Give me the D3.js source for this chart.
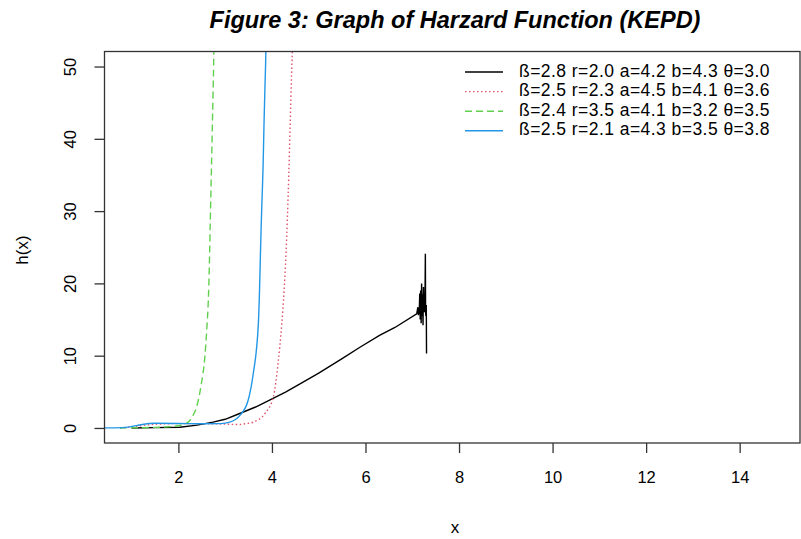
<!DOCTYPE html>
<html>
<head>
<meta charset="utf-8">
<script src="https://cdn.jsdelivr.net/npm/d3@7"></script>
<style>
  body { margin: 0; background: #fff; }
  svg text { font-family: "Liberation Sans", Arial, sans-serif; fill: #000; }
</style>
</head>
<body>
<div id="chart"></div>
<script>
// values, [x, h(x)]
const curveBlack = [
  [1.0, 0], [1.5, 0.05], [2.03, 0.1], [2.4, 0.4], [2.74, 0.8], [3.0, 1.2], [3.31, 2.0],
  [3.65, 2.9], [3.96, 3.9], [4.3, 5.0], [4.6, 6.1], [5.0, 7.6], [5.5, 9.6], [5.89, 11.2],
  [6.3, 12.8], [6.63, 13.9], [7.095, 15.8], [7.12, 16.7], [7.13, 15.6], [7.15, 16.2],
  [7.16, 18.6], [7.17, 15.0], [7.18, 19.0], [7.19, 14.5], [7.2, 20.0], [7.21, 15.5],
  [7.22, 18.5], [7.23, 14.2], [7.24, 19.5], [7.25, 16.0], [7.26, 17.2], [7.27, 16.0],
  [7.28, 24.1], [7.285, 16.0], [7.29, 15.5], [7.3, 17.0], [7.305, 10.3]
];
const curveRed = [
  [0.75, 0], [1.0, 0.15], [1.3, 0.4], [1.6, 0.55], [2.0, 0.6], [2.5, 0.6], [2.96, 0.55],
  [3.28, 0.48], [3.45, 0.6], [3.6, 0.8], [3.85, 2.0], [4.03, 4.3], [4.13, 8.9], [4.21, 14.4],
  [4.26, 19], [4.3, 24], [4.33, 29], [4.36, 35], [4.39, 42], [4.42, 49], [4.435, 52.1], [4.45, 58]
];
const curveGreen = [
  [0.75, 0], [1.0, 0.02], [1.5, 0.08], [2.0, 0.3], [2.21, 0.8], [2.3, 1.6], [2.39, 2.9],
  [2.49, 6.1], [2.565, 9.8], [2.61, 14], [2.64, 17.7], [2.66, 22], [2.68, 28], [2.7, 34],
  [2.72, 40], [2.74, 46], [2.758, 52.1], [2.77, 58]
];
const curveBlue = [
  [0.3, 0], [0.8, 0.05], [1.0, 0.2], [1.2, 0.45], [1.5, 0.65], [2.0, 0.62], [2.5, 0.58],
  [2.9, 0.6], [3.1, 0.8], [3.31, 1.7], [3.49, 3.8], [3.6, 7.5], [3.71, 14.5], [3.73, 18],
  [3.75, 23], [3.77, 28], [3.79, 32], [3.81, 36], [3.83, 42], [3.85, 47], [3.87, 52.1], [3.885, 60]
];

const legendLabels = [
  "ß=2.8 r=2.0 a=4.2 b=4.3 θ=3.0",
  "ß=2.5 r=2.3 a=4.5 b=4.1 θ=3.6",
  "ß=2.4 r=3.5 a=4.1 b=3.2 θ=3.5",
  "ß=2.5 r=2.1 a=4.3 b=3.5 θ=3.8"
];
const xTicks = [2, 4, 6, 8, 10, 12, 14];
const yTicks = [0, 10, 20, 30, 40, 50];

const series = [
  { data: curveBlack, color: "#000000", dash: null, smooth: false },
  { data: curveRed, color: "#DF536B", dash: "1.5,2.5", smooth: true },
  { data: curveGreen, color: "#61D04F", dash: "7,4", smooth: true },
  { data: curveBlue, color: "#2297E6", dash: null, smooth: true }
];

const width = 801, height = 539;
const box = { left: 104.5, right: 800, top: 51.5, bottom: 443 };

let svg = d3.select("#chart")
  .append("svg")
  .attr("width", width)
  .attr("height", height);

let x = d3.scaleLinear().domain([0.42, 15.29]).range([box.left, box.right]);
let y = d3.scaleLinear().domain([-2.08, 52.08]).range([box.bottom, box.top]);

svg.append("defs").append("clipPath")
  .attr("id", "plotclip")
  .append("rect")
  .attr("x", box.left)
  .attr("y", box.top)
  .attr("width", box.right - box.left)
  .attr("height", box.bottom - box.top);

// curves
let plot = svg.append("g").attr("clip-path", "url(#plotclip)");
series.forEach(s => {
  let line = d3.line()
    .x(d => x(d[0]))
    .y(d => y(d[1]))
    .curve(s.smooth ? d3.curveMonotoneX : d3.curveLinear);
  plot.append("path")
    .datum(s.data)
    .attr("fill", "none")
    .attr("stroke", s.color)
    .attr("stroke-width", 1.4)
    .attr("stroke-dasharray", s.dash)
    .attr("d", line);
});

// box
svg.append("rect")
  .attr("x", box.left)
  .attr("y", box.top)
  .attr("width", box.right - box.left)
  .attr("height", box.bottom - box.top)
  .attr("fill", "none")
  .attr("stroke", "#333")
  .attr("stroke-width", 1.3);

// axes
let xAxis = svg.append("g")
  .attr("transform", `translate(0,${box.bottom})`)
  .call(d3.axisBottom(x).tickValues(xTicks).tickSize(10).tickSizeOuter(0).tickPadding(18));
let yAxis = svg.append("g")
  .attr("transform", `translate(${box.left},0)`)
  .call(d3.axisLeft(y).tickValues(yTicks).tickSize(10).tickSizeOuter(0));

[xAxis, yAxis].forEach(a => {
  a.select(".domain").remove();
  a.selectAll(".tick line").attr("stroke", "#333").attr("stroke-width", 1.3);
  a.selectAll("text").attr("fill", "#000").style("font-size", "16.5px")
    .style("font-family", "'Liberation Sans', Arial, sans-serif");
});

// y tick labels are rotated, as in R
yAxis.selectAll(".tick text")
  .attr("x", null).attr("dy", null)
  .attr("text-anchor", "middle")
  .attr("transform", "translate(-33,0) rotate(-90)")
  .attr("dominant-baseline", "middle");

// titles
svg.append("text")
  .attr("x", 455)
  .attr("y", 28)
  .attr("text-anchor", "middle")
  .style("font-size", "23.5px")
  .style("font-weight", "bold")
  .style("font-style", "italic")
  .text("Figure 3: Graph of Harzard Function (KEPD)");

svg.append("text")
  .attr("x", 455)
  .attr("y", 533)
  .attr("text-anchor", "middle")
  .style("font-size", "17px")
  .text("x");

svg.append("text")
  .attr("transform", "translate(28,250) rotate(-90)")
  .attr("text-anchor", "middle")
  .style("font-size", "17px")
  .text("h(x)");

// legend, no frame
let legend = svg.append("g");
legendLabels.forEach((label, i) => {
  let ly = 72 + i * 19.6;
  legend.append("line")
    .attr("x1", 465).attr("x2", 503)
    .attr("y1", ly).attr("y2", ly)
    .attr("stroke", series[i].color)
    .attr("stroke-width", 1.4)
    .attr("stroke-dasharray", series[i].dash);
  legend.append("text")
    .attr("x", 519)
    .attr("y", ly)
    .attr("dominant-baseline", "middle")
    .style("font-size", "17.5px")
    .style("letter-spacing", "0.45px")
    .text(label);
});
</script>
</body>
</html>
